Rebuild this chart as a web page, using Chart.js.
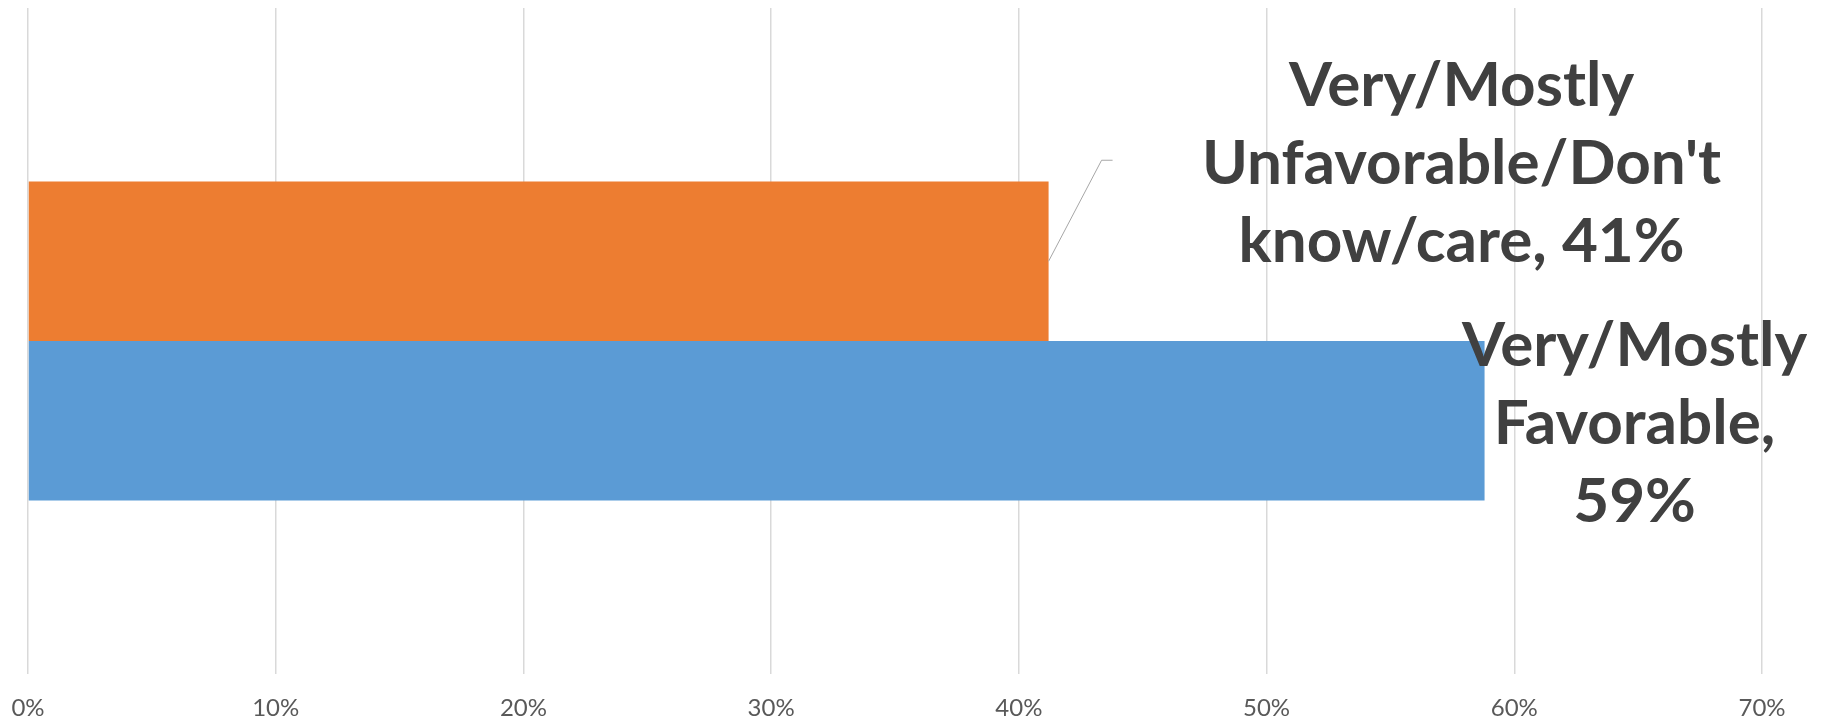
<!DOCTYPE html>
<html>
<head>
<meta charset="utf-8">
<script src="https://cdn.jsdelivr.net/npm/chart.js@4/dist/chart.umd.min.js"></script>
<style>
    body { margin: 0; background: #fff; }
    #wrap { width: 1822px; height: 721px; }
</style>
</head>
<body>
<div id="wrap"><canvas id="opinionChart"></canvas></div>
<script>
// Chart data
const categories = [''];
const unfavorableValues = [41.2];
const favorableValues = [58.8];
const seriesColors = ['#ED7D31', '#5B9BD5'];
const xTicks = [0, 10, 20, 30, 40, 50, 60, 70];
// data label text, one entry per line
const unfavorableLabel = ['Very/Mostly', "Unfavorable/Don't", 'know/care, 41%'];
const favorableLabel = ['Very/Mostly', 'Favorable,', '59%'];

// Draw the big bold data labels next to the bar ends
const barLabels = {
    id: 'barLabels',
    afterDatasetsDraw(chart) {
        const ctx = chart.ctx;
        ctx.save();
        ctx.font = 'bold 62px Lato, "Open Sans", sans-serif';
        ctx.fillStyle = '#404040';
        ctx.textAlign = 'center';
        ctx.textBaseline = 'middle';
        const lineH = 78;

        // orange bar: label up and to the right with a leader line
        const o = chart.getDatasetMeta(0).data[0];
        const ox = o.x + 413;
        const oy = o.y - 97;
        ctx.strokeStyle = '#a6a6a6';
        ctx.lineWidth = 1;
        ctx.beginPath();
        ctx.moveTo(o.x, o.y);
        ctx.lineTo(o.x + 53, o.y - 101);
        ctx.lineTo(o.x + 64, o.y - 101);
        ctx.stroke();
        unfavorableLabel.forEach((line, i) => {
            ctx.fillText(line, ox, oy + (i - 1) * lineH);
        });

        // blue bar: label just past the bar end
        const b = chart.getDatasetMeta(1).data[0];
        const bx = b.x + 150;
        const by = b.y + 3;
        favorableLabel.forEach((line, i) => {
            ctx.fillText(line, bx, by + (i - 1) * lineH);
        });
        ctx.restore();
    }
};

const ctx = document.getElementById('opinionChart').getContext('2d');
new Chart(ctx, {
    type: 'bar',
    data: {
        labels: categories,
        datasets: [
            {
                label: 'Very/Mostly Unfavorable/Don\'t know/care',
                data: unfavorableValues,
                backgroundColor: seriesColors[0],
                barPercentage: 1,
                categoryPercentage: 0.479
            },
            {
                label: 'Very/Mostly Favorable',
                data: favorableValues,
                backgroundColor: seriesColors[1],
                barPercentage: 1,
                categoryPercentage: 0.479
            }
        ]
    },
    options: {
        indexAxis: 'y',
        responsive: true,
        maintainAspectRatio: false,
        animation: false,
        layout: { padding: { left: 28, right: 60, top: 8, bottom: 0 } },
        plugins: {
            legend: { display: false },
            tooltip: { enabled: false }
        },
        scales: {
            x: {
                min: xTicks[0],
                max: xTicks[xTicks.length - 1],
                afterBuildTicks: scale => {
                    scale.ticks = xTicks.map(v => ({ value: v }));
                },
                afterFit: scale => {
                    scale.height = 47;
                    scale.paddingLeft = 0;
                    scale.paddingRight = 0;
                },
                grid: { color: '#d9d9d9', lineWidth: 1.5, drawTicks: false },
                border: { display: false },
                ticks: {
                    padding: 20,
                    color: '#595959',
                    font: { family: 'Lato, "Open Sans", sans-serif', size: 24 },
                    callback: v => v + '%'
                }
            },
            y: {
                display: false
            }
        }
    },
    plugins: [barLabels]
});
</script>
</body>
</html>
